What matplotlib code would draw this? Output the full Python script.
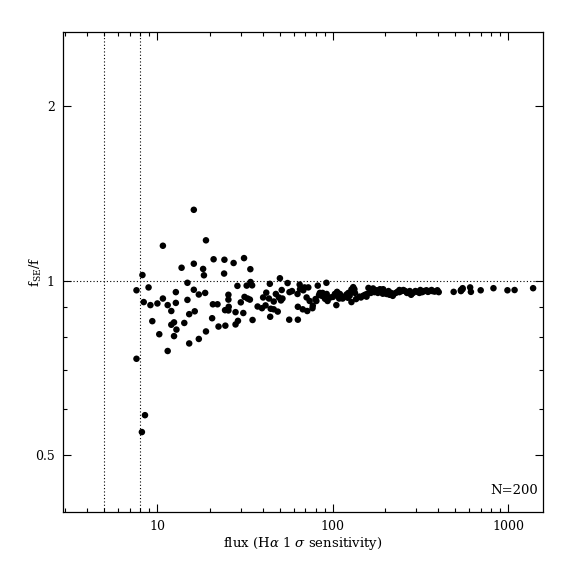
import matplotlib
matplotlib.use('Agg')
import matplotlib.pyplot as plt
from matplotlib.ticker import FixedLocator, NullFormatter, FixedFormatter

# flux (H-alpha 1 sigma sensitivity) and f_SE/f ratio
flux = [7.64, 7.64, 8.26, 8.4, 8.54, 8.2, 8.95, 9.17, 9.4, 10.05,
        10.3, 10.8, 10.8, 11.5, 11.5, 12.06, 12.06, 12.5, 12.5, 12.8,
        12.8, 12.9, 13.8, 14.3, 14.9, 14.9, 15.25, 15.25, 16.2, 16.2,
        16.2, 16.4, 17.3, 17.3, 18.3, 18.5, 18.8, 19.0, 19.0, 20.6,
        21.0, 20.8, 22.1, 22.4, 24.1, 24.2, 24.4, 24.5, 25.5, 25.5,
        25.6, 25.5, 27.3, 28.0, 28.0, 28.7, 28.9, 30.0, 31.0, 31.3,
        31.5, 32.4, 32.8, 33.8, 34.0, 34.1, 34.8, 35.0, 37.4, 39.6,
        40.2, 41.5, 41.9, 43.4, 43.9, 44.1, 44.4, 46.2, 46.2, 47.5,
        48.7, 49.4, 50.1, 50.8, 51.3, 51.8, 55.4, 56.6, 56.8, 58.7,
        63.1, 63.4, 63.4, 64.9, 65.2, 67.6, 68.1, 69.2, 71.1, 71.7,
        72.7, 74.0, 76.8, 77.1, 79.9, 80.8, 82.3, 84.6, 85.9, 86.8,
        90.5, 92.2, 92.5, 93.6, 100.5, 103, 105, 106, 107, 109,
        110, 114, 120, 122, 123, 125, 126, 128, 129, 131,
        133, 134, 136, 145, 149, 153, 157, 160, 165, 168,
        173, 178, 181, 186, 189, 193, 194, 198, 203, 208,
        211, 215, 220, 223, 229, 234, 240, 247, 253, 259,
        271, 280, 287, 296, 304, 316, 324, 332, 342, 356,
        370, 381, 395, 402, 489, 538, 549, 607, 613, 697,
        824, 990, 1087, 1386, 117, 142, 170, 265, 275, 312,
        349, 538, 550, 83.7, 97.2, 366, 156, 240, 87.6, 128]
ratio = [0.962, 0.733, 1.022, 0.918, 0.586, 0.548, 0.973, 0.907, 0.851, 0.913,
         0.808, 1.148, 0.931, 0.907, 0.756, 0.886, 0.839, 0.847, 0.802, 0.955,
         0.915, 0.823, 1.052, 0.845, 0.991, 0.926, 0.875, 0.779, 1.324, 1.069,
         0.964, 0.885, 0.946, 0.793, 1.047, 1.021, 0.952, 0.817, 1.173, 0.861,
         1.088, 0.910, 0.910, 0.833, 1.028, 1.086, 0.889, 0.836, 0.945, 0.927,
         0.901, 0.888, 1.072, 0.882, 0.840, 0.979, 0.852, 0.917, 0.879, 1.093,
         0.937, 0.980, 0.931, 0.927, 1.046, 0.994, 0.981, 0.855, 0.902, 0.896,
         0.935, 0.906, 0.953, 0.931, 0.987, 0.866, 0.894, 0.920, 0.892, 0.948,
         0.884, 0.935, 1.009, 0.924, 0.963, 0.931, 0.990, 0.856, 0.955, 0.959,
         0.948, 0.901, 0.856, 0.984, 0.966, 0.892, 0.962, 0.973, 0.935, 0.886,
         0.973, 0.922, 0.896, 0.905, 0.929, 0.922, 0.980, 0.952, 0.945, 0.941,
         0.930, 0.991, 0.948, 0.922, 0.937, 0.948, 0.907, 0.956, 0.941, 0.931,
         0.948, 0.931, 0.946, 0.934, 0.952, 0.941, 0.952, 0.918, 0.959, 0.974,
         0.966, 0.952, 0.929, 0.935, 0.941, 0.945, 0.948, 0.971, 0.952, 0.957,
         0.955, 0.962, 0.952, 0.966, 0.959, 0.949, 0.966, 0.952, 0.948, 0.959,
         0.945, 0.952, 0.941, 0.948, 0.952, 0.956, 0.955, 0.959, 0.963, 0.959,
         0.952, 0.945, 0.952, 0.959, 0.956, 0.963, 0.955, 0.959, 0.962, 0.959,
         0.959, 0.957, 0.962, 0.955, 0.956, 0.963, 0.966, 0.973, 0.956, 0.962,
         0.970, 0.962, 0.963, 0.970, 0.938, 0.938, 0.969, 0.952, 0.959, 0.952,
         0.956, 0.959, 0.970, 0.944, 0.935, 0.963, 0.938, 0.963, 0.952, 0.965]

flux_limits = [5, 8]
y_major = [0.5, 1, 2]
y_minor = [0.6, 0.7, 0.8, 0.9]
x_major = [10, 100, 1000]

plt.rcParams['font.family'] = ['DejaVu Serif']
plt.rcParams['mathtext.fontset'] = 'dejavuserif'

fig = plt.figure(figsize=(5.74, 5.74), dpi=100)
ax = fig.add_axes([0.110, 0.108, 0.836, 0.836])

ax.scatter(flux, ratio, s=22, c='black', edgecolors='none', zorder=3)

for xl in flux_limits:
    ax.axvline(xl, color='black', lw=0.8, ls=(0, (1, 2)))
ax.axhline(1, color='black', lw=0.8, ls=(0, (1, 2)))

ax.set_xscale('log')
ax.set_yscale('log')
ax.set_xlim(2.92, 1578)
ax.set_ylim(0.399, 2.68)

ax.yaxis.set_major_locator(FixedLocator(y_major))
ax.yaxis.set_major_formatter(FixedFormatter([str(v) for v in y_major]))
ax.yaxis.set_minor_locator(FixedLocator(y_minor))
ax.yaxis.set_minor_formatter(NullFormatter())
ax.xaxis.set_major_locator(FixedLocator(x_major))
ax.xaxis.set_major_formatter(FixedFormatter([str(v) for v in x_major]))

ax.tick_params(which='both', direction='in', top=True, right=True,
               labelsize=9, width=0.8, pad=6)
ax.tick_params(which='major', length=6)
ax.tick_params(which='minor', length=3)
for sp in ax.spines.values():
    sp.set_linewidth(0.9)

ax.set_xlabel(r'flux (H$\alpha$ 1 $\sigma$ sensitivity)', fontsize=9.5, labelpad=1)
ax.set_ylabel(r'f$_{\rm SE}$/f', fontsize=9.5)
ax.yaxis.set_label_coords(-0.04, 0.5)
ax.text(0.99, 0.045, 'N=200', transform=ax.transAxes, ha='right',
        va='center', fontsize=9.5)

fig.savefig('out.png', dpi=100)
